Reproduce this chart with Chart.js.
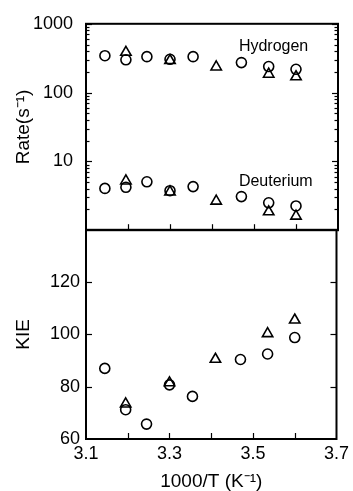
<!DOCTYPE html>
<html>
<head>
<meta charset="utf-8">
<script src="https://cdn.jsdelivr.net/npm/chart.js@4/dist/chart.umd.min.js"></script>
<style>
  html, body { margin: 0; padding: 0; background: #fff; }
  body { width: 353px; height: 491px; position: relative; overflow: hidden; }
  .panel { position: absolute; left: 0; }
  #topWrap { top: 0; width: 353px; height: 254px; }
  #botWrap { top: 213px; width: 353px; height: 278px; }
  canvas { display: block; }
</style>
</head>
<body>
<div class="panel" id="topWrap"><canvas id="topChart" width="353" height="254"></canvas></div>
<div class="panel" id="botWrap"><canvas id="botChart" width="353" height="278"></canvas></div>
<script>
// ---- data ----
const tempCircle   = [3.145, 3.195, 3.245, 3.30, 3.355, 3.47, 3.535, 3.60];
const tempTriangle = [3.195, 3.30, 3.41, 3.535, 3.60];

const rateHCircle   = [344, 300, 333, 305, 333, 273, 239, 218];
const rateHTriangle = [385, 293, 236, 185, 170];
const rateDCircle   = [4.05, 4.2, 5.05, 3.75, 4.3, 3.08, 2.5, 2.25];
const rateDTriangle = [5.2, 3.6, 2.65, 1.85, 1.6];

const kieCircle   = [87.0, 71.2, 65.7, 80.7, 76.3, 90.4, 92.5, 98.8];
const kieTriangle = [73.4, 81.5, 90.5, 100.3, 105.5];

// ---- ticks / labels ----
const tempLabelTicks = [3.1, 3.3, 3.5, 3.7];
const tempAllTicks   = [3.2, 3.3, 3.4, 3.5, 3.6];
const rateLabelTicks = [10, 100, 1000];
const rateMinorMult  = [2, 3, 4, 5, 6, 7, 8, 9];
const rateDecades    = [1, 10, 100];
const kieLabelTicks  = [60, 80, 100, 120];
const kieMarkTicks   = [80, 100, 120];
const seriesNames    = ['Hydrogen', 'Deuterium'];

const FONT = "'Liberation Sans', Arial, Helvetica, sans-serif";

function xy(xs, ys) { return xs.map((x, i) => ({ x: x, y: ys[i] })); }

function ds(label, data, style, r) {
  return {
    label: label, data: data, pointStyle: style, pointRadius: r, pointHoverRadius: r,
    borderColor: '#000', backgroundColor: 'rgba(0,0,0,0)', pointBorderWidth: 1.6,
    borderWidth: 1.6, showLine: false
  };
}

const framePlugin = {
  id: 'frameTicks',
  afterDatasetsDraw(chart, args, opts) {
    const { ctx, chartArea: a, scales } = chart;
    const sx = scales.x, sy = scales.y;
    ctx.save();
    ctx.strokeStyle = '#000';
    ctx.lineCap = 'butt';
    ctx.lineWidth = 1.2;
    const line = (x1, y1, x2, y2) => { ctx.beginPath(); ctx.moveTo(x1, y1); ctx.lineTo(x2, y2); ctx.stroke(); };
    (opts.xTicks || []).forEach(v => {
      const px = Math.round(sx.getPixelForValue(v)) + 0.5;
      line(px, a.bottom, px, a.bottom - 6);
    });
    (opts.yMajor || []).forEach(v => {
      const py = Math.round(sy.getPixelForValue(v)) + 0.5;
      line(a.left, py, a.left + 6, py);
      line(a.right, py, a.right - 6, py);
    });
    (opts.yMinor || []).forEach(v => {
      const py = Math.round(sy.getPixelForValue(v)) + 0.5;
      line(a.left, py, a.left + 3.5, py);
      line(a.right, py, a.right - 3.5, py);
    });
    (opts.notes || []).forEach(n => {
      ctx.fillStyle = '#000';
      ctx.font = '16px ' + FONT;
      ctx.textAlign = 'left';
      ctx.textBaseline = 'middle';
      ctx.fillText(n.text, sx.getPixelForValue(n.x), sy.getPixelForValue(n.y));
    });
    ctx.lineWidth = 2;
    ctx.strokeRect(a.left, a.top, a.right - a.left, a.bottom - a.top);
    ctx.restore();
  }
};

const rateMinor = [];
rateDecades.forEach(d => rateMinorMult.forEach(m => rateMinor.push(d * m)));

Chart.defaults.font.family = FONT;
Chart.defaults.color = '#000';

new Chart(document.getElementById('topChart'), {
  type: 'scatter',
  data: {
    datasets: [
      ds('Hydrogen (triangle)', xy(tempTriangle, rateHTriangle), 'triangle', 6),
      ds('Hydrogen (circle)', xy(tempCircle, rateHCircle), 'circle', 5),
      ds('Deuterium (triangle)', xy(tempTriangle, rateDTriangle), 'triangle', 6),
      ds('Deuterium (circle)', xy(tempCircle, rateDCircle), 'circle', 5)
    ]
  },
  options: {
    responsive: false, animation: false, devicePixelRatio: 1,
    layout: { padding: { top: 20, right: 15, bottom: 11, left: 0 } },
    plugins: {
      legend: { display: false }, tooltip: { enabled: false },
      frameTicks: {
        xTicks: tempAllTicks,
        yMajor: rateLabelTicks,
        yMinor: rateMinor,
        notes: [
          { text: seriesNames[0], x: 3.464, y: 470 },
          { text: seriesNames[1], x: 3.464, y: 5.1 }
        ]
      }
    },
    scales: {
      x: { type: 'linear', min: 3.1, max: 3.7, display: false },
      y: {
        type: 'logarithmic', min: 1, max: 1000,
        afterBuildTicks: s => { s.ticks = rateLabelTicks.map(v => ({ value: v })); },
        afterFit: s => { s.width = 86; },
        grid: { display: false, drawTicks: false },
        border: { display: false },
        ticks: { padding: 13, font: { size: 18 }, callback: v => String(v) },
        title: { display: true, text: 'Rate(s\u207B\u00B9)', font: { size: 19, lineHeight: 1 }, padding: { top: 14, bottom: 0 } }
      }
    }
  },
  plugins: [framePlugin]
});

new Chart(document.getElementById('botChart'), {
  type: 'scatter',
  data: {
    datasets: [
      ds('KIE (triangle)', xy(tempTriangle, kieTriangle), 'triangle', 6),
      ds('KIE (circle)', xy(tempCircle, kieCircle), 'circle', 5)
    ]
  },
  options: {
    responsive: false, animation: false, devicePixelRatio: 1,
    layout: { padding: { top: 9, right: 15, bottom: 0, left: 0 } },
    plugins: {
      legend: { display: false }, tooltip: { enabled: false },
      frameTicks: { xTicks: tempAllTicks, yMajor: kieMarkTicks, yMinor: [] }
    },
    scales: {
      x: {
        type: 'linear', min: 3.1, max: 3.7,
        afterBuildTicks: s => { s.ticks = tempLabelTicks.map(v => ({ value: v })); },
        afterFit: s => { s.height = 52; },
        grid: { display: false, drawTicks: false },
        border: { display: false },
        ticks: { padding: 4, font: { size: 18 }, maxRotation: 0, autoSkip: false, callback: v => Number(v).toFixed(1) },
        title: { display: true, text: '1000/T (K\u207B\u00B9)', font: { size: 19, lineHeight: 1 }, padding: { top: 0, bottom: 0 } }
      },
      y: {
        type: 'linear', min: 60, max: 140,
        afterBuildTicks: s => { s.ticks = kieLabelTicks.map(v => ({ value: v })); },
        afterFit: s => { s.width = 86; },
        grid: { display: false, drawTicks: false },
        border: { display: false },
        ticks: { padding: 6, font: { size: 18 }, callback: v => String(v) },
        title: { display: true, text: 'KIE', font: { size: 19, lineHeight: 1 }, padding: { top: 14, bottom: 0 } }
      }
    }
  },
  plugins: [framePlugin]
});
</script>
</body>
</html>
